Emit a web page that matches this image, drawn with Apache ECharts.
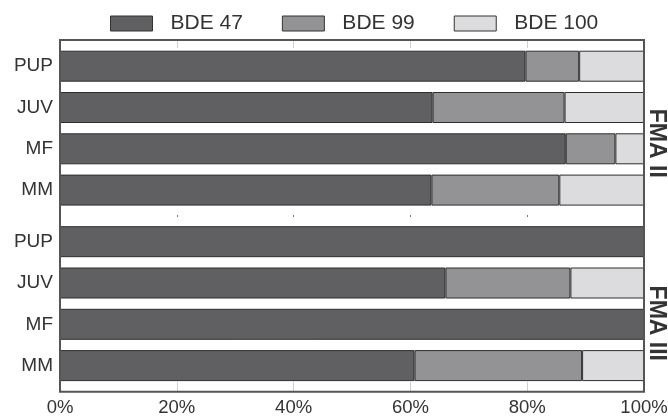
<!DOCTYPE html>
<html>
<head>
<meta charset="utf-8">
<script src="https://cdn.jsdelivr.net/npm/echarts@6/dist/echarts.min.js"></script>
<style>
  html, body { margin: 0; padding: 0; background: #fff; }
  #chart { width: 668px; height: 416px; }
</style>
</head>
<body>
<div id="chart"></div>
<script>
// Congener composition (% of total) by age/sex class, two feeding areas
const categories = ['PUP', 'JUV', 'MF', 'MM'];
const groupNames = ['FMA II', 'FMA III'];
const congeners = ['BDE 47', 'BDE 99', 'BDE 100'];

const fma2Bde47 = [79.7, 63.8, 86.6, 63.6];
const fma2Bde99 = [9.2, 22.6, 8.5, 21.9];
const fma2Bde100 = [11.1, 13.6, 4.9, 14.5];

const fma3Bde47 = [100, 66.0, 100, 60.7];
const fma3Bde99 = [0, 21.4, 0, 28.7];
const fma3Bde100 = [0, 12.6, 0, 10.6];

const xTicks = [0, 20, 40, 60, 80, 100];

const FONT = "'Liberation Sans', Arial, Helvetica, sans-serif";
const TEXT = '#333';
const colors = ['#606062', '#939396', '#dcdcde'];

const chart = echarts.init(document.getElementById('chart'), null, { renderer: 'canvas' });

function barSeries(name, data, color, gridIdx, stack) {
  return {
    name: name,
    type: 'bar',
    stack: stack,
    xAxisIndex: gridIdx === 0 ? 0 : 2,
    yAxisIndex: gridIdx,
    data: data,
    barWidth: 31,
    itemStyle: { color: color, borderColor: '#2e2e2e', borderWidth: 1 },
    emphasis: { disabled: true },
    animation: false
  };
}

const valueAxisBase = {
  type: 'value',
  min: xTicks[0],
  max: xTicks[xTicks.length - 1],
  interval: xTicks[1] - xTicks[0],
  splitLine: { show: false },
  axisLine: { show: false }
};

const option = {
  backgroundColor: '#fff',
  animation: false,
  textStyle: { fontFamily: FONT },
  legend: {
    data: congeners,
    left: 110,
    top: 13,
    padding: 0,
    itemWidth: 42,
    itemHeight: 15,
    itemGap: 39,
    icon: 'rect',
    itemStyle: { borderColor: '#333', borderWidth: 1 },
    textStyle: { fontSize: 21, color: TEXT, fontFamily: FONT, padding: [0, 0, 0, 13] }
  },
  grid: [
    { left: 60, right: 24, top: 45.55, height: 165.2, containLabel: false, outerBoundsMode: 'none' },
    { left: 60, right: 24, top: 221.05, height: 165.2, containLabel: false, outerBoundsMode: 'none' }
  ],
  xAxis: [
    Object.assign({}, valueAxisBase, {
      gridIndex: 0, position: 'bottom', offset: 4.5,
      axisLabel: { show: false },
      axisTick: { show: true, length: 1.5, lineStyle: { color: '#444', width: 1 } }
    }),
    Object.assign({}, valueAxisBase, {
      gridIndex: 0, position: 'top', offset: 5.55,
      axisLabel: { show: false },
      axisTick: { show: true, inside: true, length: 8, lineStyle: { color: '#d0d0d0', width: 1 } }
    }),
    Object.assign({}, valueAxisBase, {
      gridIndex: 1, position: 'bottom', offset: 5.45,
      axisTick: { show: true, inside: true, length: 10, lineStyle: { color: '#d0d0d0', width: 1 } },
      axisLabel: {
        formatter: '{value}%', fontSize: 18.5, color: TEXT, fontFamily: FONT, margin: 7
      }
    })
  ],
  yAxis: [0, 1].map(function (g) {
    return {
      type: 'category',
      gridIndex: g,
      inverse: true,
      data: categories,
      axisLine: { show: false },
      axisTick: { show: false },
      splitLine: { show: false },
      axisLabel: { fontSize: 19, color: TEXT, fontFamily: FONT, margin: 7 }
    };
  }),
  series: [
    barSeries(congeners[0], fma2Bde47, colors[0], 0, 'fma2'),
    barSeries(congeners[1], fma2Bde99, colors[1], 0, 'fma2'),
    barSeries(congeners[2], fma2Bde100, colors[2], 0, 'fma2'),
    barSeries(congeners[0], fma3Bde47, colors[0], 1, 'fma3'),
    barSeries(congeners[1], fma3Bde99, colors[1], 1, 'fma3'),
    barSeries(congeners[2], fma3Bde100, colors[2], 1, 'fma3')
  ],
  graphic: [
    {
      // frame around both panels
      type: 'rect',
      z: 100,
      silent: true,
      shape: { x: 60, y: 40, width: 584, height: 351.7 },
      style: { fill: 'none', stroke: '#555', lineWidth: 2 }
    },
    {
      type: 'text',
      x: 656.7, y: 143.3,
      rotation: -Math.PI / 2,
      z: 100,
      style: {
        text: groupNames[0], font: 'bold 23px ' + FONT, fill: TEXT,
        textAlign: 'center', textVerticalAlign: 'middle'
      }
    },
    {
      type: 'text',
      x: 656.7, y: 323.3,
      rotation: -Math.PI / 2,
      z: 100,
      style: {
        text: groupNames[1], font: 'bold 23px ' + FONT, fill: TEXT,
        textAlign: 'center', textVerticalAlign: 'middle'
      }
    }
  ]
};

chart.setOption(option);
</script>
</body>
</html>
